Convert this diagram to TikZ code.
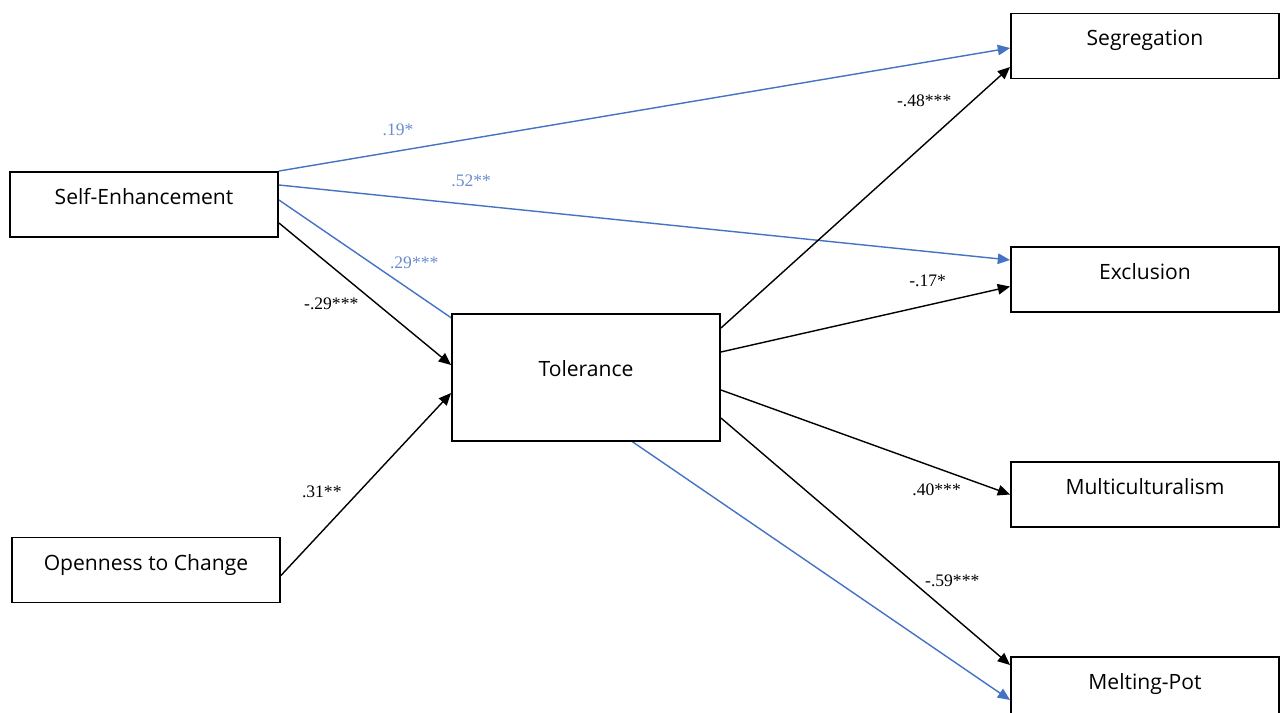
\documentclass[tikz,border=0pt]{standalone}
\usepackage{fontspec}
\setmainfont{Liberation Serif}
\newfontfamily\boxfont{Open Sans}
\usetikzlibrary{arrows.meta,calc,backgrounds}

\definecolor{pathblue}{HTML}{4472C4}
\definecolor{lblblue}{HTML}{6A8BCF}

\tikzset{
  var/.style={draw,line width=1.1pt,fill=white,minimum width=5.36cm,minimum height=1.3cm,
    inner sep=0pt,font=\boxfont\fontsize{12}{14}\selectfont,text height=7pt,text depth=7pt},
  effect/.style={line width=0.8pt,-{Triangle[length=7pt,width=6pt]}},
  direct/.style={effect,draw=pathblue,-{Triangle[length=7pt,width=6pt,fill=pathblue]}},
  coef/.style={font=\fontsize{10}{12}\selectfont,inner sep=0pt},
  bluecoef/.style={coef,text=lblblue}
}

\begin{document}
\begin{tikzpicture}[x=0.02cm,y=-0.02cm]
  \useasboundingbox (0,0) rectangle (1285,713);

  \node[var] at (144,204.5) (se) {Self-Enhancement};
  \node[var] at (146,570) (oc) {Openness to Change};
  \node[var,minimum height=2.54cm,text depth=8pt] at (586,377.5) (tol) {Tolerance};
  \node[var] at (1145,46) (seg) {Segregation};
  \node[var] at (1145,279.5) (exc) {Exclusion};
  \node[var] at (1145,494.5) (mul) {Multiculturalism};
  \node[var] at (1145,689.5) (mel) {Melting-Pot};

  % direct effects
  \draw[direct] (se.north east) -- node[bluecoef,pos=0.163,yshift=11.8pt]{.19*} ($(seg.west)+(0,2)$);
  \draw[direct] ($(se.east)+(0,-19.5)$) -- node[bluecoef,pos=0.263,yshift=13.4pt]{.52**} ($(exc.west)+(0,-19.5)$);
  \begin{scope}[on background layer]
    \draw[direct] ($(se.east)+(0,-4.5)$) -- node[bluecoef,pos=0.185,yshift=16.7pt]{.29***} ($(mel.west)+(0,10.5)$);
  \end{scope}

  % paths via tolerance
  \draw[effect] ($(se.east)+(0,18.5)$) -- node[coef,pos=0.304,yshift=-21.5pt]{-.29***} ($(tol.west)+(0,-12.5)$);
  \draw[effect] ($(oc.east)+(0,5.5)$) -- node[coef,pos=0.24,yshift=22.9pt]{.31**} ($(tol.west)+(0,15.5)$);

  \draw[effect] ($(tol.east)+(0,-49.5)$) -- node[coef,pos=0.703,yshift=24.7pt]{-.48***} ($(seg.west)+(0,21)$);
  \draw[effect] ($(tol.east)+(0,-25.5)$) -- node[coef,pos=0.715,yshift=13.9pt]{-.17*} ($(exc.west)+(0,7)$);
  \draw[effect] ($(tol.east)+(0,12.5)$) -- node[coef,pos=0.746,yshift=-12.3pt]{.40***} (mul.west);
  \draw[effect] ($(tol.east)+(0,40.5)$) -- node[coef,pos=0.8,yshift=19.6pt]{-.59***} ($(mel.west)+(0,-24.5)$);

\end{tikzpicture}
\end{document}
